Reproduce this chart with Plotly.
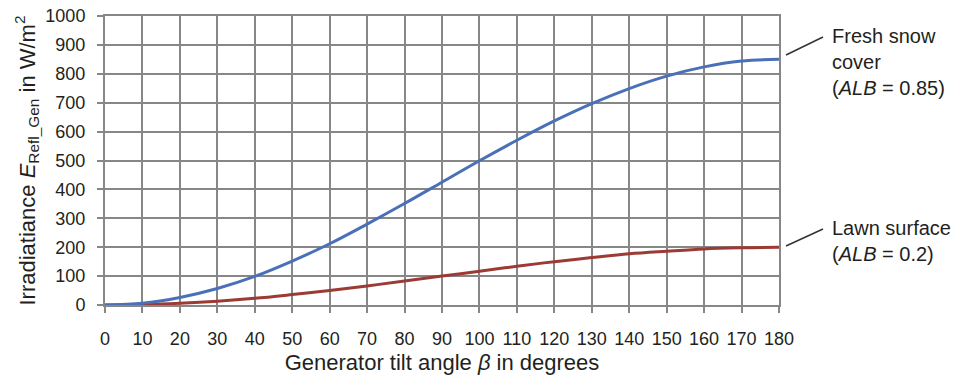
import plotly.graph_objects as go

beta = [0, 10, 20, 30, 40, 50, 60, 70, 80, 90, 100, 110, 120, 130, 140, 150, 160, 170, 180]
snow = [0, 6, 26, 57, 99, 152, 212, 280, 351, 425, 499, 570, 637, 697, 749, 792, 824, 844, 850]
lawn = [0, 1.5, 6, 13, 23, 36, 50, 66, 83, 100, 117, 134, 150, 164, 177, 186, 194, 198, 200]
x_ticks = list(range(0, 181, 10))
y_ticks = list(range(0, 1001, 100))

FONT = "Liberation Sans, Arial, sans-serif"
TXT = "#231f20"
GRID = "#878787"

fig = go.Figure()
fig.add_trace(go.Scatter(x=beta, y=lawn, mode="lines", line=dict(color="#9b3b34", width=3, shape="spline"), showlegend=False))
fig.add_trace(go.Scatter(x=beta, y=snow, mode="lines", line=dict(color="#4a70b8", width=3, shape="spline"), showlegend=False))

fig.update_layout(
    width=963, height=381,
    margin=dict(l=105, r=184, t=16, b=76),
    paper_bgcolor="white", plot_bgcolor="white",
    font=dict(family=FONT, color=TXT, size=18),
    xaxis=dict(range=[0, 180], tickvals=x_ticks, ticktext=[str(v) for v in x_ticks],
               showgrid=True, gridcolor=GRID, gridwidth=2, automargin=False,
               showline=True, linecolor=GRID, linewidth=2, mirror=True,
               ticks="outside", ticklen=6, tickcolor=GRID, tickwidth=2,
               zeroline=False, tickfont=dict(size=18), ticklabelstandoff=10,
               title=dict(text="Generator tilt angle <i>β</i> in degrees", font=dict(size=22), standoff=7)),
    yaxis=dict(range=[0, 1000], tickvals=y_ticks, ticktext=[str(v) for v in y_ticks],
               showgrid=True, gridcolor=GRID, gridwidth=2, automargin=False,
               showline=True, linecolor=GRID, linewidth=2, mirror=True,
               ticks="outside", ticklen=6, tickcolor=GRID, tickwidth=2,
               zeroline=False, tickfont=dict(size=18), ticklabelstandoff=8,
               title=dict(text="Irradiatiance <i>E</i><sub>Refl_Gen</sub> in W/m<sup>2</sup>", font=dict(size=22), standoff=4)),
)

# leader lines
fig.add_shape(type="line", xref="paper", yref="paper", x0=(786-105)/674, x1=(823-105)/674, y0=(305-55)/289, y1=(305-37)/289,
              line=dict(color="#333333", width=1.5))
fig.add_shape(type="line", xref="paper", yref="paper", x0=(786-105)/674, x1=(823-105)/674, y0=(305-246)/289, y1=(305-229)/289,
              line=dict(color="#333333", width=1.5))

fig.add_annotation(xref="paper", yref="paper", x=(830-105)/674, y=(305-62)/289, xanchor="left", yanchor="middle",
                   text="Fresh snow<br>cover<br>(<i>ALB</i> = 0.85)", showarrow=False, align="left",
                   font=dict(size=20, color=TXT, family=FONT))
fig.add_annotation(xref="paper", yref="paper", x=(830-105)/674, y=(305-241)/289, xanchor="left", yanchor="middle",
                   text="Lawn surface<br>(<i>ALB</i> = 0.2)", showarrow=False, align="left",
                   font=dict(size=20, color=TXT, family=FONT))

fig.write_html("out.html")
